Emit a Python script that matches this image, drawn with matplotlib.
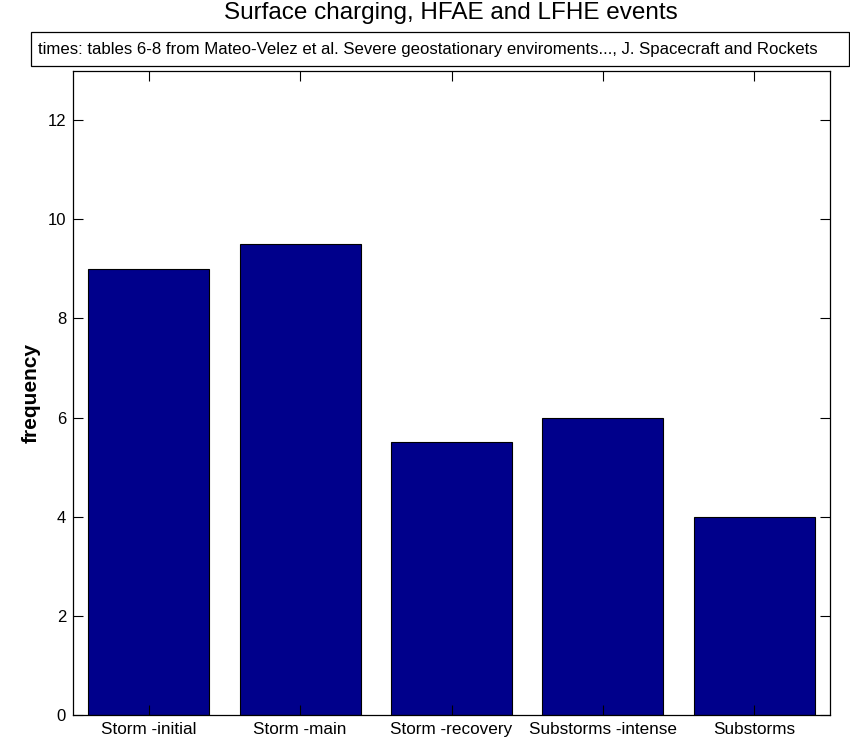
import matplotlib.pyplot as plt
from matplotlib.patches import Rectangle

categories = ["Storm -initial", "Storm -main", "Storm -recovery",
              "Substorms -intense", "Substorms"]
frequency = [9, 9.5, 5.5, 6, 4]
yticks = [0, 2, 4, 6, 8, 10, 12]

plt.rcParams['font.family'] = ['Liberation Sans', 'DejaVu Sans']

fig = plt.figure(figsize=(8.5, 7.37), dpi=100)
ax = fig.add_axes([0.0859, 0.0299, 0.8906, 0.8742])

x = range(1, len(categories) + 1)
ax.bar(x, frequency, width=0.8, color='#00008B', edgecolor='black', linewidth=0.8)

ax.set_xlim(0.5, 5.5)
ax.set_ylim(0, 13)
ax.set_xticks(list(x))
ax.set_xticklabels(categories, fontsize=12.3)
ax.set_yticks(yticks)
ax.tick_params(axis='y', labelsize=12, pad=5)
ax.tick_params(direction='in', length=7, top=True, right=True, width=0.8)
ax.tick_params(axis='x', pad=5)
for s in ax.spines.values():
    s.set_linewidth(0.9)
ax.set_ylabel("frequency", fontsize=15, fontweight='bold', labelpad=5)

fig.text(0.53, 0.983, "Surface charging, HFAE and LFHE events",
         fontsize=17.5, ha='center', va='center')

# annotation box above the axes
box = Rectangle((0.0365, 0.9098), 0.962, 0.0468, transform=fig.transFigure,
                facecolor='white', edgecolor='black', linewidth=0.9)
fig.add_artist(box)
fig.text(38 / 850, 0.9098 + 0.0468 / 2,
         "times: tables 6-8 from Mateo-Velez et al. Severe geostationary enviroments..., J. Spacecraft and Rockets",
         fontsize=12.1, ha='left', va='center')

fig.savefig("out.png", dpi=100)
